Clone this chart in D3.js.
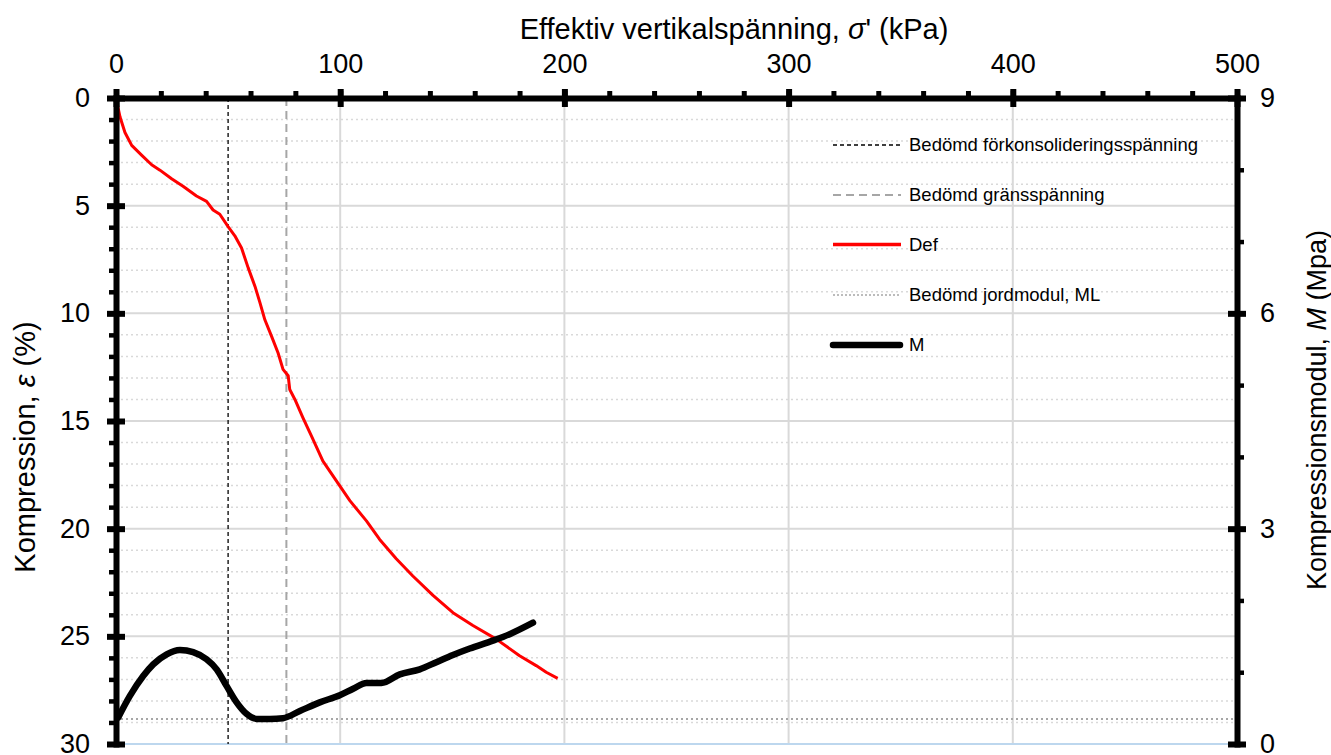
<!DOCTYPE html>
<html><head><meta charset="utf-8">
<script src="https://cdn.jsdelivr.net/npm/d3@7"></script>
<style>
html,body{margin:0;padding:0;background:#fff;}
svg{display:block;font-family:"Liberation Sans",Arial,sans-serif;}
</style></head>
<body>
<svg id="chart" width="1331" height="755"></svg>
<script>
// ---- data ----
const defStress = [0, 1.8, 4, 7, 11.4, 15.9, 19.6, 24.8, 29.9, 35.9, 40.4, 43.3, 46.3, 50, 53, 56, 59, 62, 64.2, 66.4, 69.4, 72.3, 74.5, 76.8, 77.5, 79.8, 83.4, 87.2, 92.3, 98.3, 104.3, 111.7, 117.6, 125, 132.4, 141.4, 150.3, 159.2, 169.6, 180, 187.4, 191.9, 197];
const defStrain = [0, 0.88, 1.6, 2.2, 2.65, 3.1, 3.35, 3.75, 4.1, 4.55, 4.8, 5.2, 5.4, 5.97, 6.4, 6.97, 7.9, 8.75, 9.5, 10.3, 11.07, 11.84, 12.6, 12.9, 13.54, 14, 14.85, 15.7, 16.86, 17.78, 18.7, 19.64, 20.5, 21.4, 22.2, 23.1, 23.9, 24.5, 25.13, 25.9, 26.36, 26.67, 26.95];
const mStress = [1, 6.2, 12.2, 16.6, 22.6, 28.5, 34.4, 40.4, 44.9, 49.3, 53.8, 58.2, 62.7, 68.6, 74.5, 82, 90.9, 99.8, 105.8, 111.7, 118.4, 126.6, 135.5, 142.9, 150.3, 157.8, 168.1, 175.6, 186];
const mValue = [0.37, 0.67, 0.95, 1.11, 1.25, 1.31, 1.28, 1.18, 1.04, 0.81, 0.58, 0.42, 0.35, 0.35, 0.36, 0.46, 0.58, 0.68, 0.77, 0.85, 0.85, 0.97, 1.04, 1.14, 1.24, 1.33, 1.44, 1.53, 1.69];
const preconsolidation = 50;   // kPa
const limitStress = 76;        // kPa
const modulusML = 0.35;        // MPa
const xTicks = [0, 100, 200, 300, 400, 500];
const xMinorTicks = d3.range(0, 501, 20);
const yLeftTicks = [0, 5, 10, 15, 20, 25, 30];
const yLeftMinor = d3.range(0, 31, 1);
const yRightTicks = [0, 3, 6, 9];
const yRightMinor = d3.range(0, 10, 1);
const legendLabels = ["Bedömd förkonsolideringsspänning", "Bedömd gränsspänning", "Def", "Bedömd jordmodul, ML", "M"];

// ---- layout ----
const L = 116, R = 1237, T = 98, B = 744;
const svg = d3.select("#chart");
const x = d3.scaleLinear().domain([0, 500]).range([L, R]);
const yL = d3.scaleLinear().domain([0, 30]).range([T, B]);
const yR = d3.scaleLinear().domain([0, 9]).range([B, T]);

const grid = svg.append("g");
grid.selectAll("line.minor").data(yLeftMinor.filter(v => v % 5 !== 0)).join("line")
  .attr("x1", L).attr("x2", R).attr("y1", d => yL(d)).attr("y2", d => yL(d))
  .attr("stroke", "#d9d9d9").attr("stroke-width", 1.5).attr("stroke-dasharray", "2,3");
grid.selectAll("line.major").data([5, 10, 15, 20, 25]).join("line")
  .attr("x1", L).attr("x2", R).attr("y1", d => yL(d)).attr("y2", d => yL(d))
  .attr("stroke", "#d9d9d9").attr("stroke-width", 2);
grid.selectAll("line.v").data([100, 200, 300, 400]).join("line")
  .attr("x1", d => x(d)).attr("x2", d => x(d)).attr("y1", T).attr("y2", B)
  .attr("stroke", "#d9d9d9").attr("stroke-width", 2);
svg.append("line").attr("x1", L).attr("x2", R).attr("y1", B).attr("y2", B)
  .attr("stroke", "#bdd7ee").attr("stroke-width", 2);

// reference lines
svg.append("line").attr("x1", x(preconsolidation)).attr("x2", x(preconsolidation)).attr("y1", T).attr("y2", B)
  .attr("stroke", "#000").attr("stroke-width", 1.3).attr("stroke-dasharray", "4,3");
svg.append("line").attr("x1", x(limitStress)).attr("x2", x(limitStress)).attr("y1", T).attr("y2", B)
  .attr("stroke", "#a6a6a6").attr("stroke-width", 2).attr("stroke-dasharray", "8,5");
svg.append("line").attr("x1", L).attr("x2", R).attr("y1", yR(modulusML)).attr("y2", yR(modulusML))
  .attr("stroke", "#a6a6a6").attr("stroke-width", 2).attr("stroke-dasharray", "2,3");

// series
const defData = defStress.map((s, i) => [s, defStrain[i]]);
const mData = mStress.map((s, i) => [s, mValue[i]]);
svg.append("path").datum(defData)
  .attr("d", d3.line().x(d => x(d[0])).y(d => yL(d[1])))
  .attr("fill", "none").attr("stroke", "#ff0000").attr("stroke-width", 3).attr("stroke-linejoin", "round");
svg.append("path").datum(mData)
  .attr("d", d3.line().curve(d3.curveMonotoneX).x(d => x(d[0])).y(d => yR(d[1])))
  .attr("fill", "none").attr("stroke", "#000").attr("stroke-width", 6.5).attr("stroke-linecap", "round").attr("stroke-linejoin", "round");

// ---- axes ----
function styleAxis(g, fs) {
  g.select(".domain").attr("stroke", "#000").attr("stroke-width", 6).attr("stroke-linecap", "square");
  g.selectAll("text").attr("font-size", fs).attr("fill", "#000").attr("font-family", "Liberation Sans, Arial, sans-serif");
}
svg.append("g").attr("transform", `translate(0,${T})`)
  .call(d3.axisTop(x).tickValues(xMinorTicks).tickFormat("").tickSize(7))
  .call(g => { g.select(".domain").remove(); g.selectAll("line").attr("stroke", "#000").attr("stroke-width", 5); });
svg.append("g").attr("transform", `translate(${L},0)`)
  .call(d3.axisLeft(yL).tickValues(yLeftMinor).tickFormat("").tickSize(7))
  .call(g => { g.select(".domain").remove(); g.selectAll("line").attr("stroke", "#000").attr("stroke-width", 4.5); });
svg.append("g").attr("transform", `translate(${R},0)`)
  .call(d3.axisRight(yR).tickValues(yRightMinor).tickFormat("").tickSize(7))
  .call(g => { g.select(".domain").remove(); g.selectAll("line").attr("stroke", "#000").attr("stroke-width", 4.5); });

const gTop = svg.append("g").attr("transform", `translate(0,${T})`)
  .call(d3.axisTop(x).tickValues(xTicks).tickSize(9).tickSizeOuter(0).tickPadding(16));
styleAxis(gTop, 27);
gTop.selectAll(".tick line").attr("y1", 9).attr("y2", -9).attr("stroke-width", 6).attr("stroke", "#000");

const gLeft = svg.append("g").attr("transform", `translate(${L},0)`)
  .call(d3.axisLeft(yL).tickValues(yLeftTicks).tickSize(9).tickSizeOuter(0).tickPadding(17));
styleAxis(gLeft, 27);
gLeft.selectAll(".tick line").attr("x1", 9).attr("x2", -9).attr("stroke-width", 6).attr("stroke", "#000");

const gRight = svg.append("g").attr("transform", `translate(${R},0)`)
  .call(d3.axisRight(yR).tickValues(yRightTicks).tickSize(9).tickSizeOuter(0).tickPadding(14));
styleAxis(gRight, 27);
gRight.selectAll(".tick line").attr("x1", 9).attr("x2", -9).attr("stroke-width", 6).attr("stroke", "#000");

// axis titles
const titleTop = svg.append("text").attr("x", 734).attr("y", 39).attr("text-anchor", "middle")
  .attr("font-size", 29).attr("fill", "#000");
titleTop.append("tspan").text("Effektiv vertikalspänning, ");
titleTop.append("tspan").attr("font-style", "italic").text("σ");
titleTop.append("tspan").text("' (kPa)");

const titleLeft = svg.append("text").attr("transform", "translate(35,447) rotate(-90)").attr("text-anchor", "middle")
  .attr("font-size", 29).attr("fill", "#000");
titleLeft.append("tspan").text("Kompression, ");
titleLeft.append("tspan").attr("font-style", "italic").text("ε");
titleLeft.append("tspan").text(" (%)");

const titleRight = svg.append("text").attr("transform", "translate(1326,410) rotate(-90)").attr("text-anchor", "middle")
  .attr("font-size", 27).attr("fill", "#000");
titleRight.append("tspan").text("Kompressionsmodul, ");
titleRight.append("tspan").attr("font-style", "italic").text("M");
titleRight.append("tspan").text(" (Mpa)");

// ---- legend ----
const legStyles = [
  {stroke: "#000", w: 1.3, dash: "4,3"},
  {stroke: "#a6a6a6", w: 2, dash: "8,5"},
  {stroke: "#ff0000", w: 3.5, dash: null},
  {stroke: "#a6a6a6", w: 1.5, dash: "2,2"},
  {stroke: "#000", w: 6.5, dash: null, cap: "round"}
];
const legY = [145, 195, 244.5, 295, 345];
const leg = svg.append("g");
legendLabels.forEach((lab, i) => {
  const s = legStyles[i];
  leg.append("line").attr("x1", 833).attr("x2", s.cap ? 900 : 901).attr("y1", legY[i]).attr("y2", legY[i])
    .attr("stroke", s.stroke).attr("stroke-width", s.w)
    .attr("stroke-dasharray", s.dash).attr("stroke-linecap", s.cap || "butt");
  leg.append("text").attr("x", 909).attr("y", legY[i]).attr("dy", "0.35em")
    .attr("font-size", 18.5).attr("fill", "#000").text(lab);
});
</script>
</body></html>
